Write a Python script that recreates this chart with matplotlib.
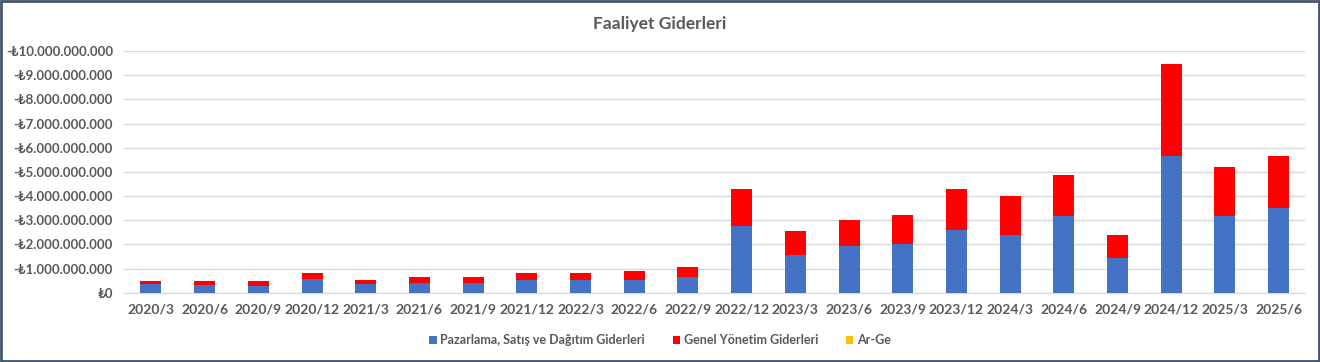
import matplotlib
matplotlib.use("Agg")
import matplotlib.pyplot as plt
import numpy as np
from matplotlib.ticker import FuncFormatter, MultipleLocator

periods = ["2020/3", "2020/6", "2020/9", "2020/12", "2021/3", "2021/6",
           "2021/9", "2021/12", "2022/3", "2022/6", "2022/9", "2022/12",
           "2023/3", "2023/6", "2023/9", "2023/12", "2024/3", "2024/6",
           "2024/9", "2024/12", "2025/3", "2025/6"]
# billions TL, expenses are negative
pazarlama = [-0.36, -0.32, -0.29, -0.58, -0.35, -0.40, -0.41, -0.55, -0.52,
             -0.55, -0.66, -2.77, -1.55, -1.94, -2.00, -2.60, -2.38, -3.18,
             -1.45, -5.68, -3.18, -3.51]
genel = [-0.15, -0.15, -0.18, -0.23, -0.20, -0.24, -0.23, -0.29, -0.32,
         -0.37, -0.39, -1.53, -1.01, -1.09, -1.21, -1.70, -1.63, -1.71,
         -0.96, -3.78, -2.03, -2.13]
arge = [0.0] * len(periods)

BLUE = "#4472C4"
RED = "#FF0000"
GOLD = "#FFC000"
TXT = "#595959"

plt.rcParams["font.family"] = ["Lato", "DejaVu Sans"]

fig = plt.figure(figsize=(13.2, 3.62), dpi=100)
ax = fig.add_axes([0.094, 0.191, 0.895, 0.668])

x = np.arange(len(periods))
p = np.array(pazarlama) * 1e9
g = np.array(genel) * 1e9
a = np.array(arge) * 1e9
w = 0.39
ax.bar(x, p, w, color=BLUE, label="Pazarlama, Satış ve Dağıtım Giderleri", zorder=3)
ax.bar(x, g, w, bottom=p, color=RED, label="Genel Yönetim Giderleri", zorder=3)
ax.bar(x, a, w, bottom=p + g, color=GOLD, label="Ar-Ge", zorder=3)

ax.set_ylim(0, -10e9)
ax.set_xlim(-0.5, len(periods) - 0.5)
ax.yaxis.set_major_locator(MultipleLocator(1e9))


def fmt(v, _):
    n = int(round(abs(v)))
    s = f"{n:,}".replace(",", ".")
    return ("-₺" if v < -0.5 else "₺") + s


ax.yaxis.set_major_formatter(FuncFormatter(fmt))
ax.set_xticks(x)
ax.set_xticklabels(periods)
ax.grid(axis="y", color="#D9D9D9", lw=1, zorder=0)
for s in ["top", "right", "left"]:
    ax.spines[s].set_visible(False)
ax.spines["bottom"].set_color("#D9D9D9")
ax.tick_params(length=0, colors=TXT)
ax.tick_params(axis="x", labelsize=10, pad=8)
ax.tick_params(axis="y", labelsize=9.5, pad=8)
for t in ax.get_xticklabels() + ax.get_yticklabels():
    t.set_fontweight("bold")

fig.text(0.5, 0.935, "Faaliyet Giderleri", ha="center", va="center",
         fontsize=12.5, color=TXT, fontweight="bold")
fig.legend(loc="center", bbox_to_anchor=(0.5, 0.06), ncol=3, frameon=False,
           labelcolor=TXT, handlelength=0.6, handleheight=0.6,
           columnspacing=2.2, handletextpad=0.3,
           prop={"weight": "bold", "size": 9})

fig.patches.append(plt.Rectangle((0.001, 0.002), 0.998, 0.995,
                                 transform=fig.transFigure, fill=False,
                                 edgecolor="#44546A", lw=2))
fig.savefig("out.png", dpi=100, facecolor="white")
